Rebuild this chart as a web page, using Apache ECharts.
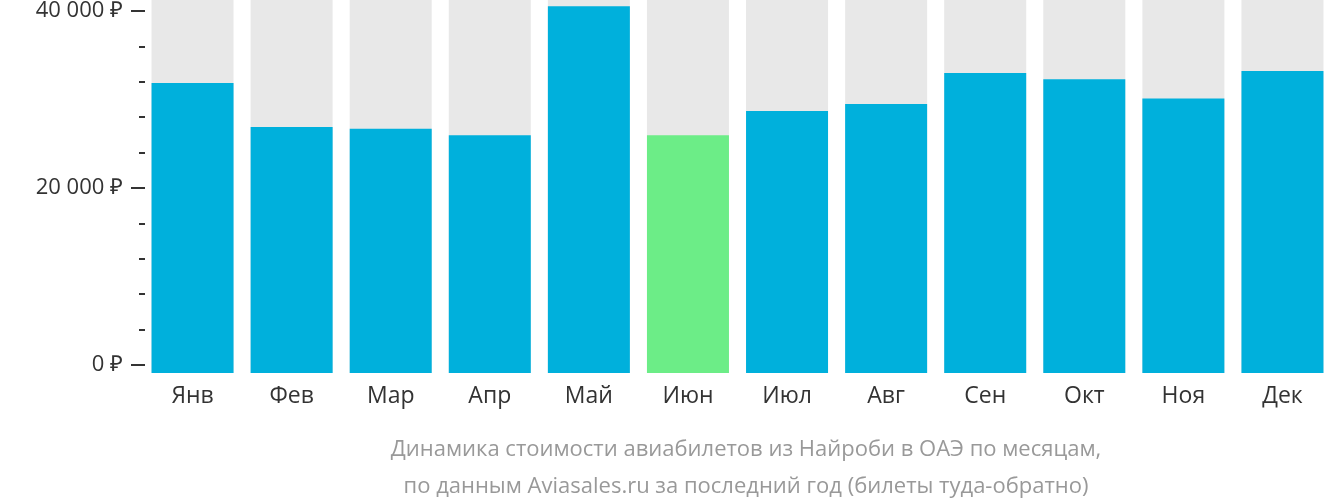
<!DOCTYPE html>
<html>
<head>
<meta charset="utf-8">
<script src="https://cdn.jsdelivr.net/npm/echarts@6/dist/echarts.min.js"></script>
<style>html,body{margin:0;padding:0;background:#fff}#chart{width:1332px;height:502px}</style>
</head>
<body>
<div id="chart"></div>
<script>
// месяцы и цены
var months = ['Янв', 'Фев', 'Мар', 'Апр', 'Май', 'Июн', 'Июл', 'Авг', 'Сен', 'Окт', 'Ноя', 'Дек'];
var prices = [31700, 26900, 26700, 26000, 40100, 26000, 28650, 29400, 32800, 32100, 30000, 33000];
var cheapestIndex = 5;

var barColor = '#00b0dc';
var cheapColor = '#6ced87';

var chart = echarts.init(document.getElementById('chart'));
var option = {
    animation: false,
    textStyle: {fontFamily: 'Open Sans'},
    title: {
        text: 'Динамика стоимости авиабилетов из Найроби в ОАЭ по месяцам,\nпо данным Aviasales.ru за последний год (билеты туда-обратно)',
        left: 741,
        textAlign: 'center',
        top: 426,
        textStyle: {fontSize: 22, fontWeight: 'normal', color: '#999', lineHeight: 37, fontFamily: 'Open Sans'}
    },
    grid: [
        {left: 143, right: -11, top: 0, bottom: 129},
        {left: 145, width: 1, top: 9, bottom: 137}
    ],
    xAxis: [
        {
            type: 'category', gridIndex: 0, data: months,
            axisLine: {show: false}, axisTick: {show: false},
            axisLabel: {fontSize: 23, color: '#333', margin: 12}
        },
        {type: 'value', gridIndex: 1, show: false}
    ],
    yAxis: [
        {type: 'value', gridIndex: 0, min: 0, max: 40770, show: false},
        {
            type: 'value', gridIndex: 1, min: 0, max: 40000, interval: 20000,
            axisLine: {show: false}, splitLine: {show: false},
            axisTick: {show: true, length: 14, lineStyle: {color: '#333', width: 2}},
            minorTick: {show: true, splitNumber: 5, length: 6, lineStyle: {color: '#333', width: 2}},
            axisLabel: {
                fontSize: 22, color: '#333', margin: 22,
                formatter: function (v) {
                    return String(v).replace(/\B(?=(\d{3})+(?!\d))/g, ' ') + ' ₽';
                }
            }
        }
    ],
    series: [{
        type: 'bar', xAxisIndex: 0, yAxisIndex: 0,
        barWidth: 82,
        showBackground: true,
        backgroundStyle: {color: '#e8e8e8'},
        data: prices.map(function (v, i) {
            return {value: v, itemStyle: {color: i === cheapestIndex ? cheapColor : barColor}};
        })
    }]
};
chart.setOption(option);
</script>
</body>
</html>
